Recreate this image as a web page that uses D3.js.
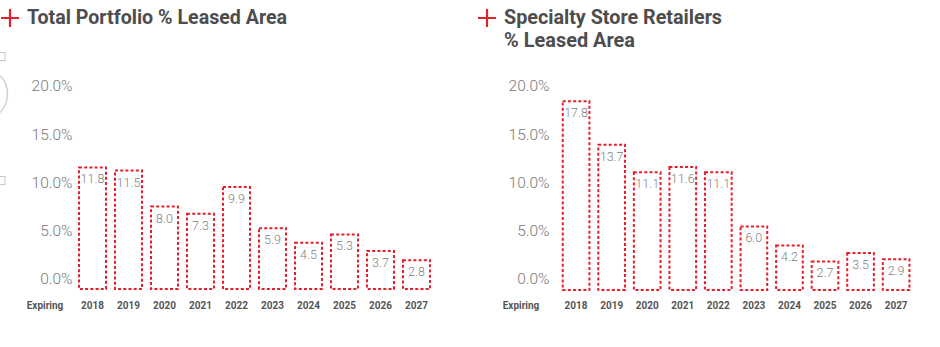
<!DOCTYPE html>
<html><head><meta charset="utf-8">
<script src="https://cdn.jsdelivr.net/npm/d3@7/dist/d3.min.js"></script>
<style>
html,body{margin:0;padding:0;background:#fff;}
svg{display:block;}
</style></head>
<body>
<svg id="chart" width="940" height="347"></svg>
<script>
// ---- data ----
const years = ["2018","2019","2020","2021","2022","2023","2024","2025","2026","2027"];
const totalPortfolio = [11.8, 11.5, 8.0, 7.3, 9.9, 5.9, 4.5, 5.3, 3.7, 2.8];
const specialtyRetailers = [17.8, 13.7, 11.1, 11.6, 11.1, 6.0, 4.2, 2.7, 3.5, 2.9];
const yTicks = [0, 5, 10, 15, 20];
const titleLeft = ["Total Portfolio % Leased Area"];
const titleRight = ["Specialty Store Retailers", "% Leased Area"];
const xAxisLabel = "Expiring";

const svg = d3.select("#chart");
const RED = "#e3202c";

// decorative cropped elements at the left edge
svg.append("rect").attr("x", -3).attr("y", 52.5).attr("width", 8).attr("height", 8)
  .attr("fill", "none").attr("stroke", "#c8c8c8").attr("stroke-width", 1);
svg.append("rect").attr("x", -3).attr("y", 176.5).attr("width", 8).attr("height", 8)
  .attr("fill", "none").attr("stroke", "#c8c8c8").attr("stroke-width", 1);
svg.append("circle").attr("cx", -19).attr("cy", 94).attr("r", 26.5)
  .attr("fill", "none").attr("stroke", "#d0d0d0").attr("stroke-width", 1.5);

function panel(cfg) {
  const g = svg.append("g");
  // title with red plus
  g.append("path")
    .attr("d", `M${cfg.plusX - 9},${cfg.plusY} H${cfg.plusX + 9} M${cfg.plusX},${cfg.plusY - 9} V${cfg.plusY + 9}`)
    .attr("stroke", RED).attr("stroke-width", 2.2).attr("fill", "none");
  cfg.title.forEach((t, i) => {
    const tx = g.append("text")
      .attr("x", cfg.titleX).attr("y", 24 + i * 23)
      .attr("font-family", "Roboto, 'DejaVu Sans', sans-serif")
      .attr("font-weight", 700).attr("font-size", 19.5)
      .attr("fill", "#4d4d4d").text(t);
    const w = tx.node().getComputedTextLength();
    const target = cfg.titleW[i];
    if (w > 0) tx.attr("textLength", target).attr("lengthAdjust", "spacingAndGlyphs");
  });

  const x = d3.scaleBand().domain(years).range(cfg.xRange).paddingInner(0.25).paddingOuter(0.125);
  const yAxisScale = d3.scaleLinear().domain([0, 20]).range([278.5, 86]);
  const yBar = d3.scaleLinear().domain([0, 20]).range(cfg.barRange);

  // y axis labels (no line)
  const axis = d3.axisLeft(yAxisScale).tickValues(yTicks)
    .tickFormat(d => d3.format(".1f")(d) + "%").tickSize(0).tickPadding(0);
  const ag = g.append("g").attr("transform", `translate(${cfg.axisX},0)`).call(axis);
  ag.select(".domain").remove();
  ag.selectAll("text")
    .attr("font-family", "Roboto, sans-serif").attr("font-weight", 300)
    .attr("font-size", 15.5).attr("fill", "#7a7a7a");

  // bars
  g.selectAll("rect.bar").data(cfg.values).enter().append("rect")
    .attr("class", "bar")
    .attr("x", (d, i) => x(years[i]))
    .attr("y", d => yBar(d))
    .attr("width", x.bandwidth())
    .attr("height", d => yBar(0) - yBar(d))
    .attr("fill", "none").attr("stroke", RED).attr("stroke-width", 2)
    .attr("stroke-dasharray", "3,2.2");

  // value labels
  g.selectAll("text.val").data(cfg.values).enter().append("text")
    .attr("class", "val")
    .attr("x", (d, i) => x(years[i]) + x.bandwidth() / 2)
    .attr("y", d => yBar(d) + 16)
    .attr("text-anchor", "middle")
    .attr("font-family", "Roboto, sans-serif").attr("font-weight", 300)
    .attr("font-size", 12.5).attr("fill", "#808080")
    .text(d => d3.format(".1f")(d));

  // x axis labels
  const xa = d3.axisBottom(x).tickSize(0).tickPadding(0);
  const xg = g.append("g").attr("transform", `translate(0,${cfg.yearY})`).call(xa);
  xg.select(".domain").remove();
  xg.selectAll("text")
    .attr("font-family", "Roboto, sans-serif").attr("font-weight", 700)
    .attr("font-size", 10).attr("fill", "#555").attr("dy", 0).attr("y", 0);

  g.append("text").attr("x", cfg.expX).attr("y", cfg.yearY)
    .attr("text-anchor", "middle")
    .attr("font-family", "Roboto, sans-serif").attr("font-weight", 700)
    .attr("font-size", 10).attr("fill", "#555").text(xAxisLabel);
}

panel({
  title: titleLeft, titleW: [260], titleX: 27, plusX: 10, plusY: 18,
  values: totalPortfolio,
  xRange: [74.5, 434.5], barRange: [289, 83], axisX: 72.5,
  yearY: 309, expX: 45
});
panel({
  title: titleRight, titleW: [218, 131], titleX: 504, plusX: 487, plusY: 18,
  values: specialtyRetailers,
  xRange: [558.3, 913.9], barRange: [290, 78], axisX: 549.5,
  yearY: 309, expX: 521
});
</script>
</body></html>
